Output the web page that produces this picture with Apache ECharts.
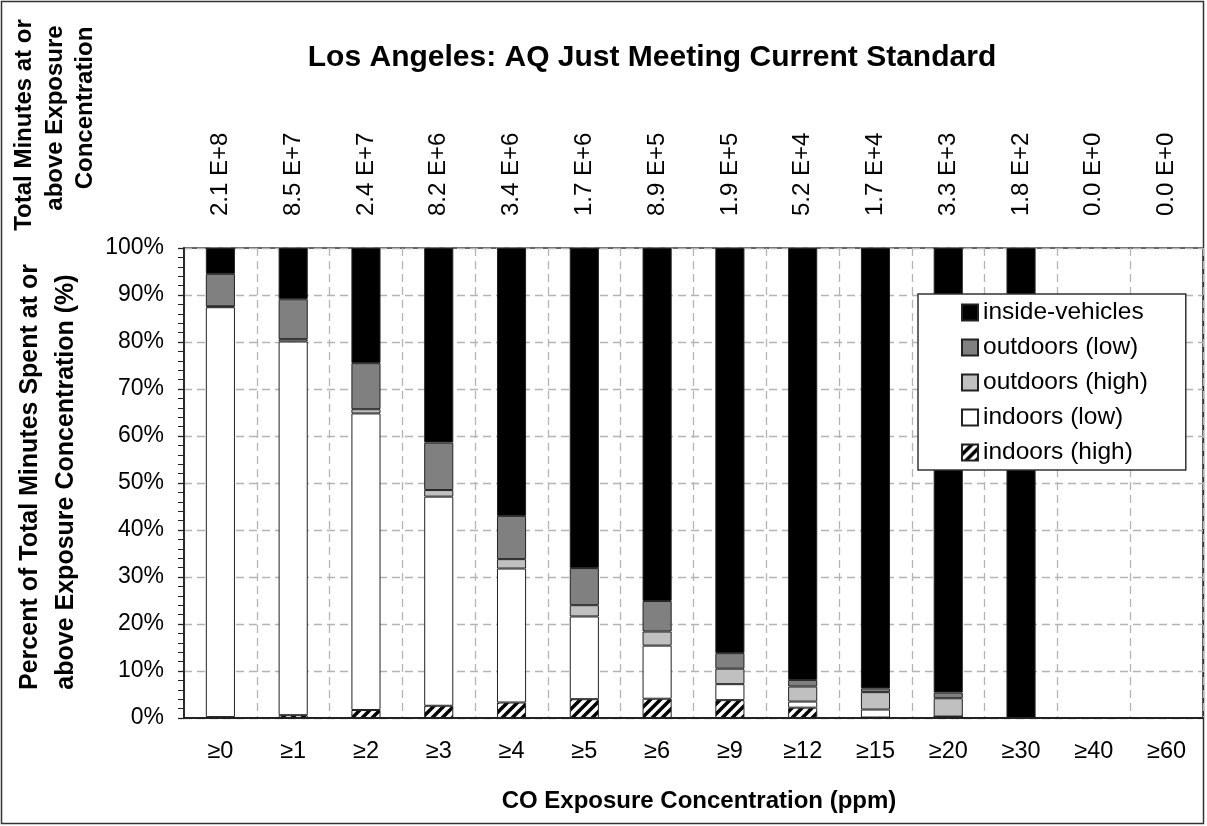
<!DOCTYPE html>
<html>
<head>
<meta charset="utf-8">
<script src="https://cdn.jsdelivr.net/npm/echarts@6/dist/echarts.min.js"></script>
<style>
  html, body { margin: 0; padding: 0; background: #fff; }
  #chart { width: 1207px; height: 826px; }
</style>
</head>
<body>
<div id="chart"></div>
<script>
// CO exposure bins
const categories = ['≥0', '≥1', '≥2', '≥3', '≥4', '≥5', '≥6', '≥9', '≥12', '≥15', '≥20', '≥30', '≥40', '≥60']
// total minutes at or above each concentration (top labels)
const totalMinutes = ['2.1 E+8', '8.5 E+7', '2.4 E+7', '8.2 E+6', '3.4 E+6', '1.7 E+6', '8.9 E+5',
  '1.9 E+5', '5.2 E+4', '1.7 E+4', '3.3 E+3', '1.8 E+2', '0.0 E+0', '0.0 E+0']

// percent of minutes by microenvironment (stacked bottom -> top)
const indoorsHigh = [0.2, 0.6, 1.7, 2.6, 3.3, 4.0, 4.1, 3.8, 2.2, 0.1, 0.3, 0, 0, 0]
const indoorsLow = [87.2, 79.5, 63.1, 44.5, 28.5, 17.6, 11.3, 3.4, 1.3, 1.7, 0, 0, 0, 0]
const outdoorsHigh = [0.2, 0.5, 0.9, 1.4, 2.0, 2.4, 3.0, 3.3, 3.2, 3.7, 3.9, 0, 0, 0]
const outdoorsLow = [6.9, 8.5, 9.8, 10.1, 9.2, 7.9, 6.5, 3.3, 1.4, 0.8, 1.2, 0, 0, 0]
const insideVehicles = [5.5, 10.9, 24.5, 41.4, 57.0, 68.1, 75.1, 86.2, 91.9, 93.7, 94.6, 100, 0, 0]

const yTicks = [0, 10, 20, 30, 40, 50, 60, 70, 80, 90, 100]

const FONT = '"Liberation Sans", Arial, sans-serif'

// diagonal hatch for indoors (high)
const makeHatch = () => {
  const c = document.createElement('canvas')
  c.width = 10
  c.height = 10
  const g = c.getContext('2d')
  g.fillStyle = '#fff'
  g.fillRect(0, 0, 10, 10)
  g.strokeStyle = '#000'
  g.lineWidth = 3.5
  g.beginPath()
  g.moveTo(-5, 5); g.lineTo(5, -5)
  g.moveTo(-1, 11); g.lineTo(11, -1)
  g.moveTo(5, 15); g.lineTo(15, 5)
  g.stroke()
  return c
}

const gridLine = { show: true, lineStyle: { color: '#b4b4b4', type: [8, 5], width: 1.3 } }

const barSeries = (name, data, color) => ({
  name,
  type: 'bar',
  stack: 'total',
  barWidth: '40%',
  data,
  itemStyle: { color, borderColor: '#222', borderWidth: 1 }
})

const chart = echarts.init(document.getElementById('chart'))

const option = {
  animation: false,
  textStyle: { fontFamily: FONT, color: '#000' },
  grid: {
    left: 184, top: 248, width: 1019, height: 470,
    show: true, borderColor: '#333', borderWidth: 1.5
  },
  legend: {
    data: ['inside-vehicles', 'outdoors (low)', 'outdoors (high)', 'indoors (low)', 'indoors (high)'],
    orient: 'vertical',
    left: 918,
    top: 294,
    padding: [6, 38, 5, 43],
    itemGap: 10,
    itemWidth: 16,
    itemHeight: 16,
    icon: 'rect',
    backgroundColor: '#fff',
    borderColor: '#333',
    borderWidth: 1.5,
    borderRadius: 0,
    textStyle: { fontFamily: FONT, fontSize: 24.5, lineHeight: 24, color: '#000' }
  },
  xAxis: [
    {
      type: 'category',
      position: 'bottom',
      data: categories,
      axisLine: { lineStyle: { color: '#222', width: 1.8 } },
      axisTick: { length: 6, lineStyle: { color: '#222', width: 1.3 } },
      axisLabel: { fontFamily: FONT, fontSize: 23.5, color: '#000', margin: 22 },
      splitLine: gridLine
    },
    {
      type: 'category',
      position: 'bottom',
      data: categories,
      axisLine: { show: false },
      axisTick: { alignWithLabel: true, length: 6, lineStyle: { color: '#222', width: 1.3 } },
      axisLabel: { show: false },
      splitLine: { show: false }
    },
    {
      type: 'category',
      position: 'top',
      data: totalMinutes,
      axisLine: { show: false },
      axisTick: { show: false },
      axisLabel: { fontFamily: FONT, fontSize: 24, color: '#000', rotate: -90, margin: 32 },
      splitLine: { show: false }
    }
  ],
  yAxis: {
    type: 'value',
    min: yTicks[0],
    max: yTicks[yTicks.length - 1],
    interval: 10,
    axisLine: { show: true, lineStyle: { color: '#222', width: 1.8 } },
    axisTick: { show: true, length: 6, lineStyle: { color: '#222', width: 1.3 } },
    minorTick: { show: true, splitNumber: 5, length: 6, lineStyle: { color: '#222', width: 1 } },
    axisLabel: { fontFamily: FONT, fontSize: 23, color: '#000', margin: 20, formatter: '{value}%' },
    splitLine: gridLine
  },
  series: [
    barSeries('indoors (high)', indoorsHigh, { image: makeHatch(), repeat: 'repeat' }),
    barSeries('indoors (low)', indoorsLow, '#ffffff'),
    barSeries('outdoors (high)', outdoorsHigh, '#c0c0c0'),
    barSeries('outdoors (low)', outdoorsLow, '#808080'),
    barSeries('inside-vehicles', insideVehicles, '#000000')
  ],
  graphic: [
    {
      type: 'rect', silent: true, z: -1,
      shape: { x: 1.5, y: 1.5, width: 1202, height: 822 },
      style: { fill: 'none', stroke: '#333', lineWidth: 1.5 }
    },
    {
      type: 'text', x: 652, y: 58,
      style: { text: 'Los Angeles: AQ Just Meeting Current Standard', font: 'bold 30px ' + FONT, fill: '#000', align: 'center', verticalAlign: 'middle' }
    },
    {
      type: 'text', x: 699, y: 801,
      style: { text: 'CO Exposure Concentration (ppm)', font: 'bold 24px ' + FONT, fill: '#000', align: 'center', verticalAlign: 'middle' }
    },
    {
      type: 'text', x: 30, y: 477, rotation: Math.PI / 2,
      style: { text: 'Percent of Total Minutes Spent at or', font: 'bold 25px ' + FONT, fill: '#000', align: 'center', verticalAlign: 'middle' }
    },
    {
      type: 'text', x: 66, y: 482, rotation: Math.PI / 2,
      style: { text: 'above Exposure Concentration (%)', font: 'bold 25px ' + FONT, fill: '#000', align: 'center', verticalAlign: 'middle' }
    },
    {
      type: 'text', x: 24, y: 125, rotation: Math.PI / 2,
      style: { text: 'Total Minutes at or', font: 'bold 24px ' + FONT, fill: '#000', align: 'center', verticalAlign: 'middle' }
    },
    {
      type: 'text', x: 55, y: 118, rotation: Math.PI / 2,
      style: { text: 'above Exposure', font: 'bold 24px ' + FONT, fill: '#000', align: 'center', verticalAlign: 'middle' }
    },
    {
      type: 'text', x: 85, y: 108, rotation: Math.PI / 2,
      style: { text: 'Concentration', font: 'bold 24px ' + FONT, fill: '#000', align: 'center', verticalAlign: 'middle' }
    }
  ]
}

chart.setOption(option)
</script>
</body>
</html>
